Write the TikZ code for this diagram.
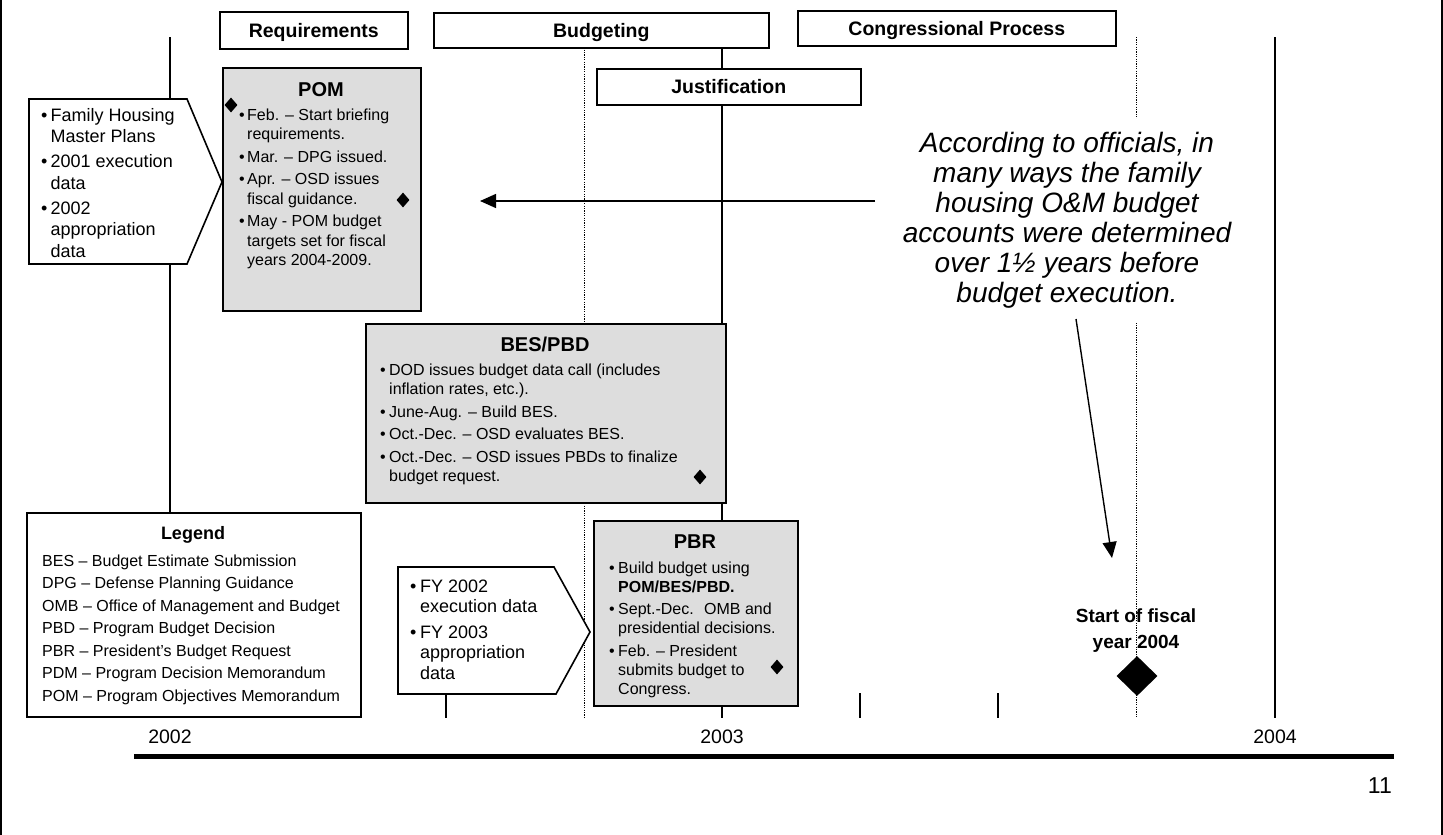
\documentclass[tikz,border=0pt]{standalone}
\usepackage{fontspec}
\setmainfont{Liberation Sans}
\usetikzlibrary{shapes.geometric,arrows.meta}
\definecolor{boxgray}{HTML}{DDDDDD}
\newcommand{\fsz}[2]{\fontsize{#1}{#2}\selectfont}
\tikzset{
  hdr/.style={draw, line width=1.6pt, fill=white, inner sep=0pt, anchor=north west,
    font=\bfseries\fsz{19.5}{23}, text height=13.5pt, text depth=0pt},
  gbox/.style={draw, line width=1.6pt, fill=boxgray, inner sep=0pt, anchor=north west},
  wbox/.style={draw, line width=1.6pt, fill=white, inner sep=0pt, anchor=north west},
  callout/.style={draw, line width=1.6pt, fill=white, line join=miter},
  ttl/.style={anchor=base, inner sep=0pt, font=\bfseries\fsz{20}{24}},
  body/.style={anchor=base west, inner sep=0pt, font=\fsz{16}{19.5}},
  tline/.style={line width=1.4pt},
  dline/.style={line width=1pt, dash pattern=on 1.2pt off 1.2pt},
  mk/.style={diamond, fill=black, inner sep=0pt, minimum width=13pt, minimum height=15pt},
  arr/.style={line width=1.4pt, -{Triangle[length=16pt,width=14pt]}},
  yearlbl/.style={anchor=base, inner sep=0pt, font=\fsz{19.5}{23}},
}
\begin{document}
\begin{tikzpicture}[x=1pt,y=-1pt]
\useasboundingbox (0,0) rectangle (1443,835);
% page edges
\draw[line width=2.5pt] (1,0) -- (1,835);
\draw[line width=1.5pt] (1442,0) -- (1442,835);

% timeline verticals
\draw[tline] (170,37) -- (170,718);
\draw[tline] (722,40) -- (722,718);
\draw[tline] (1275,37) -- (1275,718);
\draw[dline] (584,40) -- (584,718);
\draw[dline] (1136,37) -- (1136,718);
% quarter ticks
\foreach \x in {308,446,860,998}{ \draw[tline] (\x,693) -- (\x,718); }

% header boxes
\node[hdr, minimum width=188pt, minimum height=37pt] (req) at (219,11) {Requirements};
\node[hdr, minimum width=335pt, minimum height=35pt] (budg) at (433,12) {Budgeting};
\node[hdr, minimum width=318pt, minimum height=35pt] (cong) at (797,10) {Congressional Process};
\node[hdr, minimum width=264pt, minimum height=36pt] (just) at (596,68) {Justification};

% left callout
\draw[callout] (29,99) -- (187,99) -- (222,182) -- (187,264) -- (29,264) -- cycle;
\node[body, font=\fsz{18}{21.5}] (lcB) at (41,121) {\begin{tabular}[t]{@{}p{9.5pt}@{}l@{}}
•&Family Housing\\
&Master Plans\\[3.5pt]
•&2001 execution\\
&data\\[3.5pt]
•&2002\\
&appropriation\\
&data
\end{tabular}};

% POM
\node[gbox, minimum width=198pt, minimum height=243pt] (pom) at (222,67) {};
\node[ttl] (pomT) at (321,96) {POM};
\node[body] (pomB) at (239,120) {\begin{tabular}[t]{@{}p{8pt}@{}l@{}}
•&Feb. – Start briefing\\
&requirements.\\[3pt]
•&Mar. – DPG issued.\\[3pt]
•&Apr. – OSD issues\\
&fiscal guidance.\\[3pt]
•&May - POM budget\\
&targets set for fiscal\\
&years 2004-2009.
\end{tabular}};

% BES/PBD
\node[gbox, minimum width=360pt, minimum height=179pt] (bes) at (365,323) {};
\node[ttl] (besT) at (545,351) {BES/PBD};
\node[body] (besB) at (380,375) {\begin{tabular}[t]{@{}p{9pt}@{}l@{}}
•&DOD issues budget data call (includes\\
&inflation rates, etc.).\\[3pt]
•&June-Aug. – Build BES.\\[3pt]
•&Oct.-Dec. – OSD evaluates BES.\\[3pt]
•&Oct.-Dec. – OSD issues PBDs to finalize\\
&budget request.
\end{tabular}};

% Legend
\node[wbox, minimum width=334pt, minimum height=204pt] (leg) at (26,512) {};
\node[ttl, font=\bfseries\fsz{18}{22}] (legT) at (193,539) {Legend};
\node[body, font=\fsz{16}{22.5}] (legB) at (42,566) {\begin{tabular}[t]{@{}l@{}}
BES – Budget Estimate Submission\\
DPG – Defense Planning Guidance\\
OMB – Office of Management and Budget\\
PBD – Program Budget Decision\\
PBR – President's Budget Request\\
PDM – Program Decision Memorandum\\
POM – Program Objectives Memorandum
\end{tabular}};

% FY callout
\draw[callout] (398,567) -- (554,567) -- (590,632) -- (556,694) -- (398,694) -- cycle;
\node[body, font=\fsz{18}{20.5}] (fyB) at (410,592) {\begin{tabular}[t]{@{}p{10pt}@{}l@{}}
•&FY 2002\\
&execution data\\[5pt]
•&FY 2003\\
&appropriation\\
&data
\end{tabular}};

% PBR
\node[gbox, minimum width=204pt, minimum height=185pt] (pbr) at (593,520) {};
\node[ttl] (pbrT) at (695,548) {PBR};
\node[body, font=\fsz{16}{19.3}] (pbrB) at (609,573) {\begin{tabular}[t]{@{}p{9pt}@{}l@{}}
•&Build budget using\\
&\textbf{POM/BES/PBD.}\\[3pt]
•&Sept.-Dec.~ OMB and\\
&presidential decisions.\\[3pt]
•&Feb. – President\\
&submits budget to\\
&Congress.
\end{tabular}};

% milestone diamonds
\node[mk] (d1) at (231,105) {};
\node[mk] (d2) at (403,200) {};
\node[mk] (d3) at (700,477) {};
\node[mk] (d4) at (777,667) {};
\node[diamond, fill=black, inner sep=0pt, minimum width=41pt, minimum height=40pt] (d5) at (1137,676) {};

% note text
\node[anchor=base, inner sep=12pt, fill=white, font=\itshape\fsz{28}{30}] (note) at (1067,152) {\begin{tabular}[t]{@{}c@{}}
According to officials, in\\
many ways the family\\
housing O\&M budget\\
accounts were determined\\
over 1½ years before\\
budget execution.
\end{tabular}};

% arrows
\coordinate (hA) at (875,201);
\coordinate (hB) at (480,201);
\draw[arr] (hA) -- (hB);
\coordinate (sA) at (1076,319);
\coordinate (sB) at (1112,558);
\draw[arr] (sA) -- (sB);

% start of FY label
\node[anchor=base, inner sep=0pt, font=\bfseries\fsz{19}{26}] (fyst) at (1136,622) {\begin{tabular}[t]{@{}c@{}}Start of fiscal\\year 2004\end{tabular}};

% axis
\draw[line width=5pt] (134,756) -- (1394,756);
\node[yearlbl] (y2) at (170,743) {2002};
\node[yearlbl] (y3) at (722,743) {2003};
\node[yearlbl] (y4) at (1275,743) {2004};
\node[anchor=base east, inner sep=0pt, font=\fsz{23}{27}] (pg) at (1392,793) {11};
\end{tikzpicture}
\end{document}
